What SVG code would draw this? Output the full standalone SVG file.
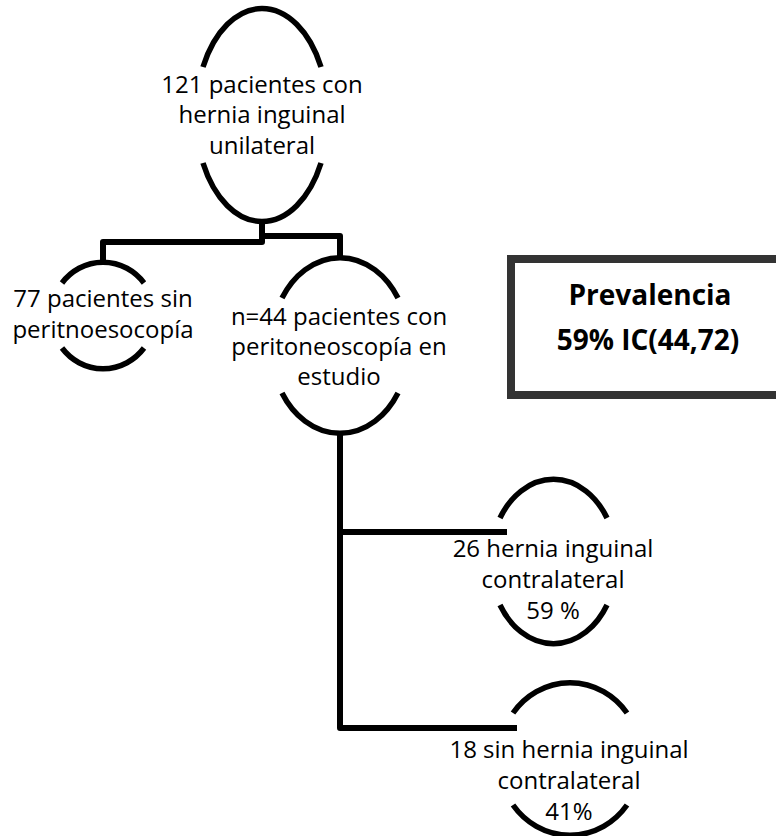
<svg xmlns="http://www.w3.org/2000/svg" width="776" height="836" viewBox="0 0 776 836">
<style>
.arc{fill:none;stroke:#000;stroke-width:5.5;stroke-linecap:butt}
.con{fill:none;stroke:#000;stroke-width:6;stroke-linejoin:round}
.t{font-family:"Open Sans","Liberation Sans",sans-serif;font-size:24px;fill:#000;text-anchor:middle}
.b{font-family:"Open Sans","Liberation Sans",sans-serif;font-size:28px;font-weight:bold;fill:#000;text-anchor:middle}
</style>
<rect width="776" height="836" fill="#fff"/>
<g id="connectors">
<path class="con" d="M262 220 V242 H103 V262"/>
<path class="con" d="M262 236 H340 V256"/>
<path class="con" d="M340 431 V728 H517"/>
<path class="con" d="M340 532 H507"/>
</g>
<g id="n121">
<path class="arc" d="M203 67 A66 106 0 0 1 321 67"/>
<path class="arc" d="M203 163 A66 106 0 0 0 321 163"/>
<text class="t" x="262" y="93">121 pacientes con</text>
<text class="t" x="262" y="123">hernia inguinal</text>
<text class="t" x="262" y="154">unilateral</text>
</g>
<g id="n77">
<path class="arc" d="M62 283 A52 54 0 0 1 144 283"/>
<path class="arc" d="M62 348 A52 54 0 0 0 144 348"/>
<text class="t" x="103" y="307">77 pacientes sin</text>
<text class="t" x="103" y="338">peritnoesocopía</text>
</g>
<g id="n44">
<path class="arc" d="M282 298 A69 88 0 0 1 398 298"/>
<path class="arc" d="M282 393 A69 88 0 0 0 398 393"/>
<text class="t" x="339" y="325">n=44 pacientes con</text>
<text class="t" x="339" y="355">peritoneoscopía en</text>
<text class="t" x="339" y="385">estudio</text>
</g>
<g id="n26">
<path class="arc" d="M500 518 A63 82 0 0 1 607 518"/>
<path class="arc" d="M500 605 A63 82 0 0 0 607 605"/>
<text class="t" x="553" y="557">26 hernia inguinal</text>
<text class="t" x="553" y="588">contralateral</text>
<text class="t" x="553" y="619">59 %</text>
</g>
<g id="n18">
<path class="arc" d="M513 713 A71 75 0 0 1 627 713"/>
<path class="arc" d="M513 805 A71 75 0 0 0 627 805"/>
<text class="t" x="569" y="758">18 sin hernia inguinal</text>
<text class="t" x="569" y="789">contralateral</text>
<text class="t" x="569" y="820">41%</text>
</g>
<g id="prevalencia">
<rect x="511" y="259" width="280" height="136" fill="#fff" stroke="#333" stroke-width="8"/>
<text class="b" x="650" y="305">Prevalencia</text>
<text class="b" x="648" y="350">59% IC(44,72)</text>
</g>
</svg>
